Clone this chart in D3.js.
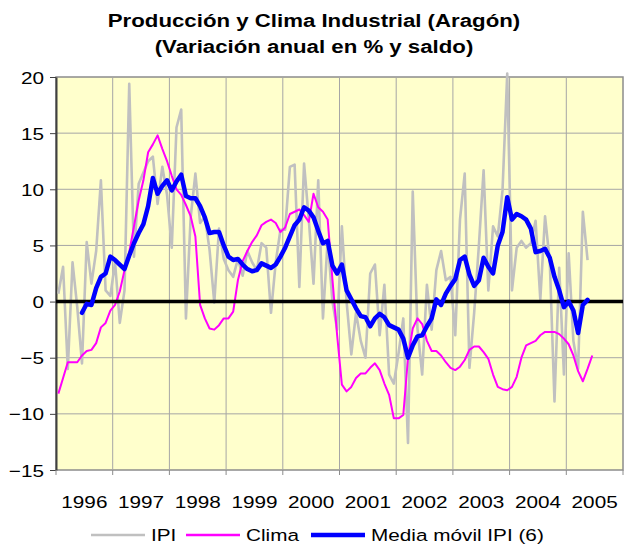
<!DOCTYPE html>
<html>
<head>
<meta charset="utf-8">
<script src="https://cdnjs.cloudflare.com/ajax/libs/d3/7.8.5/d3.min.js"></script>
<style>
  body { margin: 0; background: #fff; }
  text { font-family: "Liberation Sans", Arial, sans-serif; fill: #000; }
</style>
</head>
<body>
<div id="chart"></div>
<script>
// Datos (mensual, desde enero 1996)
const years = [1996, 1997, 1998, 1999, 2000, 2001, 2002, 2003, 2004, 2005]
const yTicks = [-15, -10, -5, 0, 5, 10, 15, 20]
const seriesNames = ['IPI', 'Clima', 'Media móvil IPI (6)']

const ipi = [
  0.7, 3.1, -6.0, 3.5, -0.5, -5.5, 5.3, 1.6, 4.5, 10.8, 1.0, 0.5,
  3.5, -1.9, 1.0, 19.4, 4.0, 10.5, 11.5, 12.5, 12.9, 8.7, 12.0, 9.5,
  4.8, 15.5, 17.1, -1.5, 7.5, 11.4, 7.0, 7.6, 4.6, -0.1, 6.5, 3.8,
  2.8, 2.2, 3.8, 2.3, 4.5, 3.5, 2.8, 5.2, 4.8, -1.0, 3.5, 6.4,
  6.4, 12.0, 12.2, 1.3, 12.3, 7.3, 1.6, 10.8, -1.5, 5.5, 0.0, -2.5,
  6.7, 0.0, -4.7, -1.0, -3.5, -5.0, 2.5, 3.3, -3.0, 1.5, -6.5, -7.3,
  -4.6, -1.5, -12.6, 9.8, -2.4, -6.5, 1.5, -2.5, 2.8, 4.5, 1.9, 2.2,
  -3.0, 7.3, 11.4, -5.9, -1.0, 5.0, 11.7, 1.0, 6.7, 5.8, 9.9, 20.3,
  1.0, 4.8, 5.4, 4.8, 5.2, 7.2, 0.2, 7.6, 3.6, -8.9, 3.0, -6.5,
  4.3, -3.5, -6.0, 8.0, 3.7
]

const clima = [
  -8.2, -6.8, -5.4, -5.4, -5.4, -4.8, -4.4, -4.3, -3.7, -2.3, -1.9, -0.8,
  -0.3, 0.9, 2.8, 4.4, 6.7, 9.0, 10.8, 13.3, 14.0, 14.8, 13.6, 12.5,
  11.2, 10.0, 9.5, 8.6, 7.6, 5.8, -0.3, -1.5, -2.4, -2.5, -2.1, -1.5,
  -1.5, -0.9, 1.9, 3.6, 4.5, 5.3, 5.9, 6.8, 7.1, 7.3, 7.0, 6.2,
  6.6, 7.8, 8.0, 8.2, 7.7, 7.1, 9.6, 8.4, 8.0, 7.3, 2.0, -3.0,
  -7.4, -8.0, -7.6, -6.8, -6.4, -6.4, -5.9, -5.5, -6.1, -7.3, -8.3, -10.4,
  -10.4, -10.1, -5.0, -2.4, -1.5, -2.0, -3.5, -4.4, -4.4, -4.8, -5.4, -5.9,
  -6.1, -5.8, -5.2, -4.3, -4.0, -4.0, -4.5, -5.1, -6.5, -7.6, -7.8, -7.9,
  -7.6, -6.7, -5.0, -3.9, -3.7, -3.5, -3.0, -2.7, -2.7, -2.7, -2.9, -3.3,
  -3.8, -4.8, -6.2, -7.1, -6.0, -4.8
]

// media movil de 6 meses, empieza en junio 1996
const mediaStart = 5
const mediaMovil = [
  -1.0, -0.2, -0.3, 1.2, 2.2, 2.5, 4.0,
  3.7, 3.3, 2.9, 4.1, 5.2, 6.1, 6.9, 8.5, 11.0, 9.6, 10.3, 10.8,
  9.9, 10.7, 11.3, 9.4, 9.2, 9.2, 8.5, 7.5, 6.1, 6.2, 6.2, 5.0,
  4.0, 3.7, 3.8, 3.3, 2.9, 2.7, 2.8, 3.4, 3.2, 3.0, 3.3, 4.0,
  4.8, 5.8, 6.8, 7.3, 8.4, 8.1, 7.5, 6.3, 5.2, 5.4, 3.2, 2.5,
  3.3, 1.0, 0.2, -0.6, -1.3, -1.4, -2.2, -1.5, -1.1, -1.4, -2.1, -2.3,
  -2.5, -3.3, -5.0, -3.9, -3.1, -3.0, -2.2, -1.5, 0.2, -0.3, 0.7, 1.4,
  2.0, 3.7, 4.0, 2.4, 1.4, 1.9, 3.9, 3.1, 2.5, 5.0, 6.2, 9.3,
  7.3, 7.8, 7.6, 7.3, 6.5, 4.4, 4.5, 4.7, 3.9, 2.2, 1.0, -0.5,
  0.0, -0.8, -2.8, -0.3, 0.15
]

var width = 624
var height = 545
var plot = { left: 56, right: 623, top: 77, bottom: 470 }
var sx = 1.22  // el texto original esta algo ensanchado

// categorias: un mes por punto
const months = years.flatMap((y) => d3.range(12).map((m) => `${y}-${m + 1}`))

const xScale = d3.scaleBand()
  .domain(months)
  .range([plot.left, plot.right])

const yScale = d3.scaleLinear()
  .domain([-15, 20])
  .range([plot.bottom, plot.top])

const xm = (i) => xScale(months[i]) + xScale.bandwidth() / 2

var svg = d3.select('#chart')
  .append('svg')
  .attr('width', width)
  .attr('height', height)

// helper for stretched text
function label(g, x, y, txt, anchor, size, weight) {
  return g.append('text')
    .attr('transform', `translate(${x},${y}) scale(${sx},1)`)
    .attr('text-anchor', anchor)
    .style('font-size', size + 'px')
    .style('font-weight', weight || 'normal')
    .text(txt)
}

// titulo
label(svg, 314, 27, 'Producción y Clima Industrial (Aragón)', 'middle', 17.5, 'bold')
  .attr('transform', `translate(314,27) scale(1.27,1)`)
label(svg, 314, 53, '(Variación anual en % y saldo)', 'middle', 17.5, 'bold')
  .attr('transform', `translate(314,53) scale(1.27,1)`)

// plot background
svg.append('rect')
  .attr('x', plot.left)
  .attr('y', plot.top)
  .attr('width', plot.right - plot.left)
  .attr('height', plot.bottom - plot.top)
  .attr('fill', '#FFFFCC')
  .attr('stroke', '#8c8c8c')
  .attr('stroke-width', 1.5)

// horizontal gridlines
svg.append('g')
  .selectAll('line')
  .data(yTicks.filter((d) => d !== 0 && d !== -15 && d !== 20))
  .enter()
  .append('line')
  .attr('x1', plot.left)
  .attr('x2', plot.right)
  .attr('y1', (d) => yScale(d))
  .attr('y2', (d) => yScale(d))
  .attr('stroke', '#a6a6a6')
  .attr('stroke-width', 1)

// vertical gridlines, one per year
svg.append('g')
  .selectAll('line')
  .data(years.slice(1))
  .enter()
  .append('line')
  .attr('x1', (d) => xScale(`${d}-1`))
  .attr('x2', (d) => xScale(`${d}-1`))
  .attr('y1', plot.top)
  .attr('y2', plot.bottom)
  .attr('stroke', '#a6a6a6')
  .attr('stroke-width', 1)

// y axis
const yAxis = d3.axisLeft(yScale)
  .tickValues(yTicks)
  .tickSize(6)
  .tickSizeOuter(0)

const yg = svg.append('g')
  .attr('transform', `translate(${plot.left},0)`)
  .call(yAxis)
yg.select('.domain').attr('stroke', '#404040').attr('stroke-width', 2)
yg.selectAll('.tick line').attr('stroke', '#404040')
yg.selectAll('.tick text')
  .attr('x', null)
  .attr('dy', null)
  .attr('transform', `translate(-12,6) scale(${sx},1)`)
  .style('font-size', '17px')
  .style('font-family', '"Liberation Sans", Arial, sans-serif')
  .attr('fill', '#000')

// x axis ticks at year boundaries
const xg = svg.append('g')
xg.selectAll('line')
  .data(years.concat([2006]))
  .enter()
  .append('line')
  .attr('x1', (d) => d === 2006 ? plot.right : xScale(`${d}-1`))
  .attr('x2', (d) => d === 2006 ? plot.right : xScale(`${d}-1`))
  .attr('y1', plot.bottom)
  .attr('y2', plot.bottom + 5)
  .attr('stroke', '#8c8c8c')

// year labels centred in each year
years.forEach((y) => {
  label(svg, xScale(`${y}-1`) + xScale.bandwidth() * 6, 508, String(y), 'middle', 17)
})

// lines
const line = d3.line()
  .defined((d) => d.v != null)
  .x((d) => xm(d.i))
  .y((d) => yScale(d.v))

const ipiData = ipi.map((v, i) => ({ i: i, v: v }))
const climaData = clima.map((v, i) => ({ i: i, v: v }))
const mediaData = mediaMovil.map((v, i) => ({ i: i + mediaStart, v: v }))

svg.append('path')
  .datum(ipiData)
  .attr('d', line)
  .attr('fill', 'none')
  .attr('stroke', '#C0C0C0')
  .attr('stroke-width', 2.6)
  .attr('stroke-linejoin', 'round')

svg.append('path')
  .datum(climaData)
  .attr('d', line)
  .attr('fill', 'none')
  .attr('stroke', '#FF00FF')
  .attr('stroke-width', 2)
  .attr('stroke-linejoin', 'round')

// zero line
svg.append('line')
  .attr('x1', plot.left)
  .attr('x2', plot.right)
  .attr('y1', yScale(0))
  .attr('y2', yScale(0))
  .attr('stroke', '#000')
  .attr('stroke-width', 3.5)

svg.append('path')
  .datum(mediaData)
  .attr('d', line)
  .attr('fill', 'none')
  .attr('stroke', '#0000FF')
  .attr('stroke-width', 4.5)
  .attr('stroke-linejoin', 'round')
  .attr('stroke-linecap', 'round')

// legend
const legendItems = [
  { name: seriesNames[0], color: '#C0C0C0', w: 2.6, x: 91 },
  { name: seriesNames[1], color: '#FF00FF', w: 2.5, x: 186 },
  { name: seriesNames[2], color: '#0000FF', w: 4.5, x: 311 }
]
const legend = svg.append('g')
legendItems.forEach((d) => {
  legend.append('line')
    .attr('x1', d.x)
    .attr('x2', d.x + 54)
    .attr('y1', 535)
    .attr('y2', 535)
    .attr('stroke', d.color)
    .attr('stroke-width', d.w)
  label(legend, d.x + 60, 541, d.name, 'start', 17)
})
</script>
</body>
</html>
